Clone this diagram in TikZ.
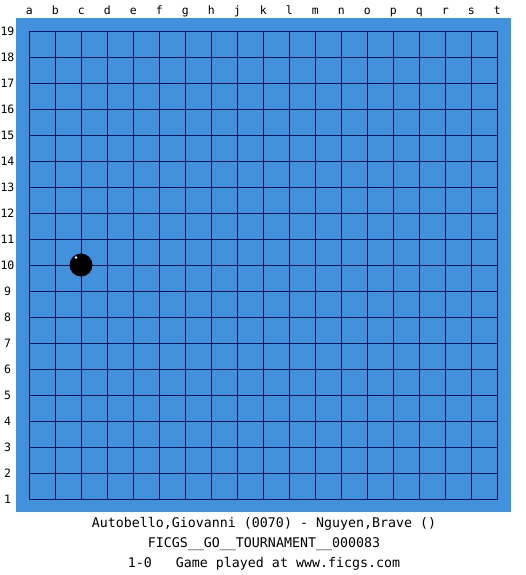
\documentclass[tikz,border=0pt]{standalone}
\usepackage{fontspec}
\setmonofont{DejaVu Sans Mono}
\definecolor{boardblue}{RGB}{66,145,221}
\definecolor{gridline}{RGB}{0,0,60}
\begin{document}
\begin{tikzpicture}[x=1pt,y=-1pt,
  lbl/.style={font=\ttfamily\fontsize{11.5}{11.5}\selectfont, inner sep=0pt},
  caption/.style={font=\ttfamily\fontsize{13.3}{13.3}\selectfont, inner sep=0pt},
  stone/.style={circle, fill=black, minimum size=23pt, inner sep=0pt}]
\useasboundingbox (0,0) rectangle (525,575);
\fill[white] (0,0) rectangle (525,575);
\fill[boardblue] (16,18) rectangle (511,512);
\foreach \i in {0,...,18} {
  \draw[gridline, line width=1.3pt] ({29.3+26*\i},31.5) -- ({29.3+26*\i},499.5);
  \draw[gridline, line width=1.3pt] (29.3,{31.5+26*\i}) -- (497.3,{31.5+26*\i});
}
\foreach \c [count=\k from 0] in {a,b,c,d,e,f,g,h,j,k,l,m,n,o,p,q,r,s,t} {
  \node[lbl, anchor=base] (col\c) at ({29.3+26*\k},15) {\c};
}
\foreach \r in {1,...,19} {
  \pgfmathsetmacro{\ry}{31.5+26*(19-\r)}
  \node[lbl] (row\r) at (7.5,\ry) {\r};
}
\node[stone] (c10) at (81,265) {};
\fill[white] (76,257.5) circle (1.4);
\node[caption] (players) at (264,524) {Autobello,Giovanni (0070) - Nguyen,Brave ()};
\node[caption] (event) at (264,544) {FICGS\_\_GO\_\_TOURNAMENT\_\_000083};
\node[caption] (result) at (264,564) {1-0\ \ \ Game played at www.ficgs.com};
\end{tikzpicture}
\end{document}
